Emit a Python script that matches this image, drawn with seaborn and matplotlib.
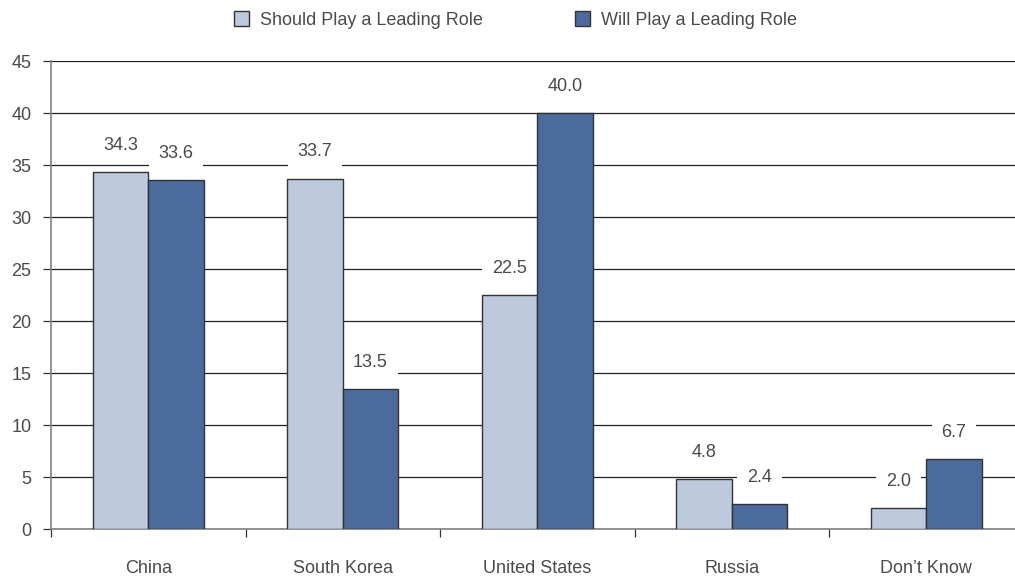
import numpy as np
import pandas as pd
import matplotlib
matplotlib.use("Agg")
import matplotlib.pyplot as plt
import seaborn as sns
from matplotlib.ticker import FixedLocator

categories = ["China", "South Korea", "United States", "Russia", "Don\u2019t Know"]
should_play = [34.3, 33.7, 22.5, 4.8, 2.0]
will_play = [33.6, 13.5, 40.0, 2.4, 6.7]
series = ["Should Play a Leading Role", "Will Play a Leading Role"]
colors = ["#BDC9DD", "#4A6B9B"]

df = pd.DataFrame({
    "category": categories * 2,
    "value": should_play + will_play,
    "series": [series[0]] * len(categories) + [series[1]] * len(categories),
})

sns.set_theme(style="white")
plt.rcParams["font.family"] = ["Liberation Sans", "DejaVu Sans"]
text_col = "#4a4a4a"

fig = plt.figure(figsize=(10.15, 5.77), dpi=100)
ax = fig.add_axes([51 / 1015, 48 / 577, 964 / 1015, 468 / 577])

sns.barplot(data=df, x="category", y="value", hue="series", palette=colors,
            width=0.57, edgecolor="#333333", linewidth=1, saturation=1,
            ax=ax, zorder=3)

ax.set_ylim(0, 45)
ax.set_xlim(-0.5, -0.5 + 964 / 194.5)
ax.set_yticks(np.arange(0, 46, 5))
ax.yaxis.grid(True, color="#222222", linewidth=0.9)
ax.set_axisbelow(True)
for s in ["top", "right"]:
    ax.spines[s].set_visible(False)
ax.spines["left"].set_color("#808080")
ax.spines["bottom"].set_color("#808080")
ax.spines["left"].set_linewidth(1.2)
ax.spines["bottom"].set_linewidth(1.2)

ax.tick_params(axis="y", length=6, width=0.9, color="#333333", pad=8,
               labelsize=13, labelcolor=text_col, left=True)
ax.tick_params(axis="x", which="major", length=0, pad=22,
               labelsize=13, labelcolor=text_col)
ax.xaxis.set_minor_locator(FixedLocator(np.arange(-0.5, 4.6, 1.0)))
ax.tick_params(axis="x", which="minor", length=6, width=0.9,
               color="#333333", bottom=True)
ax.set_xlabel("")
ax.set_ylabel("")

for cont in ax.containers:
    ax.bar_label(cont, fmt="%.1f", padding=13, fontsize=13, color=text_col,
                 bbox=dict(facecolor="white", edgecolor="none", pad=7),
                 zorder=2.5)

ax.get_legend().remove()
handles = [plt.Rectangle((0, 0), 1, 1, facecolor=c, edgecolor="#333333",
                         linewidth=1) for c in colors]
fig.legend(handles, series, loc="center", bbox_to_anchor=(0.508, 0.965),
           ncol=2, frameon=False, fontsize=13, handlelength=0.85,
           handleheight=0.85, handletextpad=0.6, columnspacing=5.1,
           labelcolor=text_col)

fig.savefig("out.png", dpi=100)
